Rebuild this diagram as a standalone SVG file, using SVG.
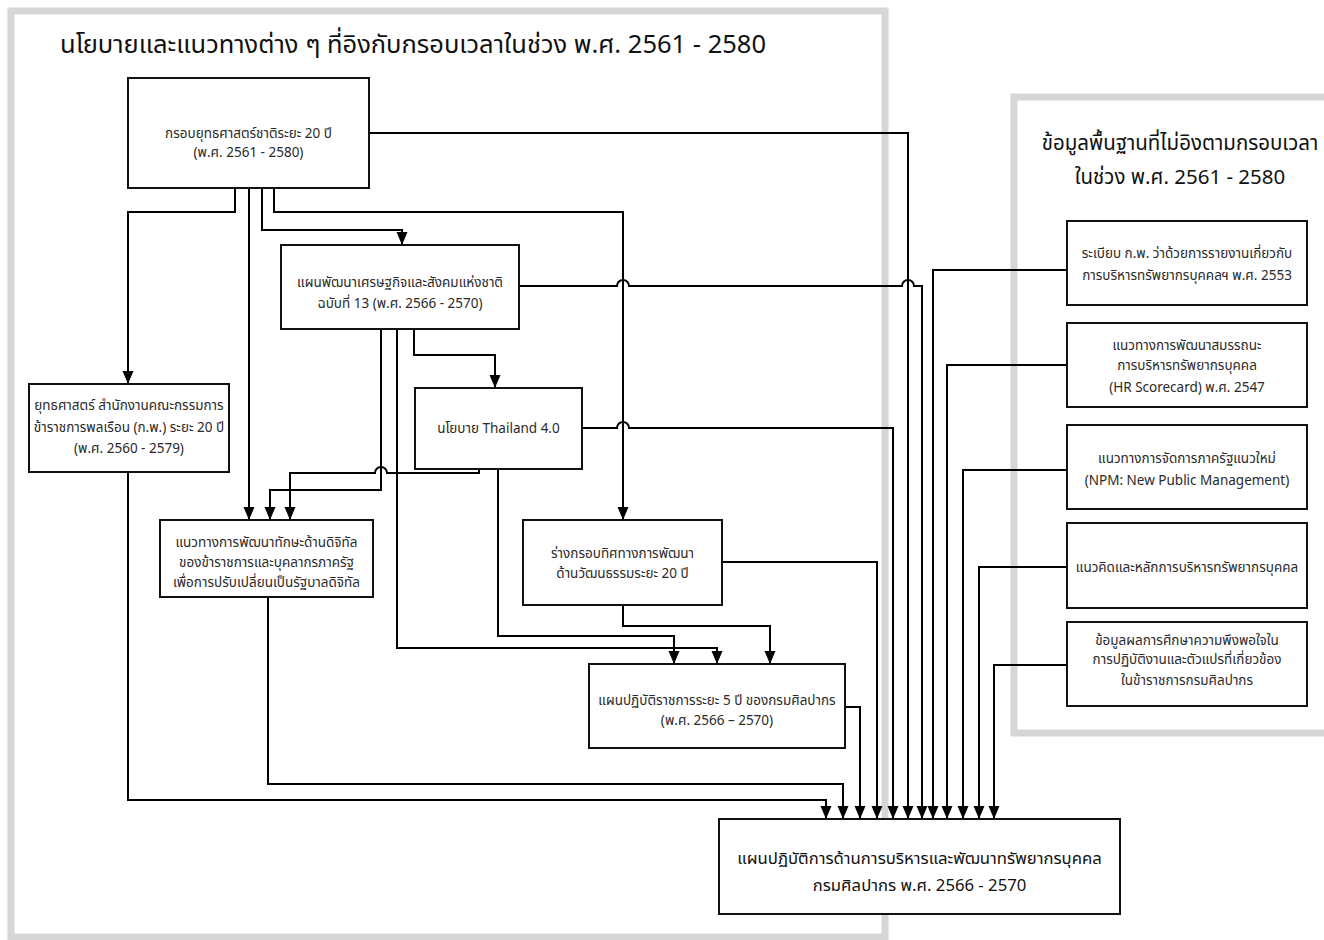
<svg xmlns="http://www.w3.org/2000/svg" width="1324" height="940" viewBox="0 0 1324 940">
<defs>
<marker id="arr" markerWidth="13" markerHeight="12" refX="13" refY="6" orient="auto" markerUnits="userSpaceOnUse" viewBox="0 0 13 12">
<path d="M0 0.5 L13 6 L0 11.5 Z" fill="#000"/>
</marker>
<style>
.panel{fill:#fff;stroke:#d6d6d6;stroke-width:7}
.box{fill:#fff;stroke:#111;stroke-width:2}
.t{font-family:"Noto Sans Thai","Noto Sans","DejaVu Sans",sans-serif;fill:#2a2a2a;text-anchor:middle}
.s{font-size:13.5px}
.big{font-size:25.5px;fill:#111;text-anchor:start}
.mid{font-size:20.5px;fill:#111}
.tg{font-size:16.7px;fill:#111}
.c{fill:none;stroke:#000;stroke-width:2}
.c path{marker-end:url(#arr)}
</style>
</defs>
<rect width="1324" height="940" fill="#fff"/>
<rect class="panel" x="11" y="11" width="874" height="926"/>
<rect class="panel" x="1014" y="97" width="320" height="636"/>
<text class="t big" x="60" y="53">นโยบายและแนวทางต่าง ๆ ที่อิงกับกรอบเวลาในช่วง พ.ศ. 2561 - 2580</text>
<text class="t mid" x="1180" y="150">ข้อมูลพื้นฐานที่ไม่อิงตามกรอบเวลา</text>
<text class="t mid" x="1180" y="184">ในช่วง พ.ศ. 2561 - 2580</text>

<g class="c" id="connectors">
<path d="M235 188 V212 H128 V384"/>
<path d="M249 188 V520"/>
<path d="M262 188 V230 H402 V245"/>
<path d="M274 188 V212 H623 V520"/>
<path d="M369 133 H908 V819"/>
<path d="M381 329 V490 H270 V520"/>
<path d="M397 329 V648 H717 V664"/>
<path d="M414 329 V355 H495 V388"/>
<path d="M519 286 H617 a6 6 0 0 1 12 0 H902 a6 6 0 0 1 12 0 H922 V819"/>
<path d="M479 469 V473 H387 a6 6 0 0 0 -12 0 H290 V520"/>
<path d="M498 469 V636 H674 V664"/>
<path d="M582 428 H617 a6 6 0 0 1 12 0 H893 V819"/>
<path d="M623 605 V626 H770 V664"/>
<path d="M722 562 H877 V819"/>
<path d="M845 707 H860 V819"/>
<path d="M128 472 V800 H826 V819"/>
<path d="M268 597 V784 H843 V819"/>
<path d="M1067 270 H933 V819"/>
<path d="M1067 365 H947 V819"/>
<path d="M1067 470 H963 V819"/>
<path d="M1067 567 H979 V819"/>
<path d="M1067 665 H994 V819"/>
</g>

<g id="nodeA">
<rect class="box" x="128" y="78" width="241" height="110"/>
<text class="t s" x="248.5" y="138">กรอบยุทธศาสตร์ชาติระยะ 20 ปี</text>
<text class="t s" x="248.5" y="157">(พ.ศ. 2561 - 2580)</text>
</g>
<g id="nodeB">
<rect class="box" x="281" y="245" width="238" height="84"/>
<text class="t s" x="400" y="287">แผนพัฒนาเศรษฐกิจและสังคมแห่งชาติ</text>
<text class="t s" x="400" y="308">ฉบับที่ 13 (พ.ศ. 2566 - 2570)</text>
</g>
<g id="nodeC">
<rect class="box" x="29" y="384" width="200" height="88"/>
<text class="t s" x="129" y="410">ยุทธศาสตร์ สำนักงานคณะกรรมการ</text>
<text class="t s" x="129" y="432">ข้าราชการพลเรือน (ก.พ.) ระยะ 20 ปี</text>
<text class="t s" x="129" y="453">(พ.ศ. 2560 - 2579)</text>
</g>
<g id="nodeD">
<rect class="box" x="160" y="520" width="213" height="77"/>
<text class="t s" x="266.5" y="547">แนวทางการพัฒนาทักษะด้านดิจิทัล</text>
<text class="t s" x="266.5" y="567">ของข้าราชการและบุคลากรภาครัฐ</text>
<text class="t s" x="266.5" y="587">เพื่อการปรับเปลี่ยนเป็นรัฐบาลดิจิทัล</text>
</g>
<g id="nodeE">
<rect class="box" x="415" y="388" width="167" height="81"/>
<text class="t s" x="498.5" y="433">นโยบาย Thailand 4.0</text>
</g>
<g id="nodeF">
<rect class="box" x="523" y="520" width="199" height="85"/>
<text class="t s" x="622.5" y="558">ร่างกรอบทิศทางการพัฒนา</text>
<text class="t s" x="622.5" y="578">ด้านวัฒนธรรมระยะ 20 ปี</text>
</g>
<g id="nodeG">
<rect class="box" x="589" y="664" width="256" height="84"/>
<text class="t s" x="717" y="705">แผนปฏิบัติราชการระยะ 5 ปี ของกรมศิลปากร</text>
<text class="t s" x="717" y="725">(พ.ศ. 2566 – 2570)</text>
</g>
<g id="nodeT">
<rect class="box" x="719" y="819" width="401" height="95"/>
<text class="t tg" x="919.5" y="864">แผนปฏิบัติการด้านการบริหารและพัฒนาทรัพยากรบุคคล</text>
<text class="t tg" x="919.5" y="891">กรมศิลปากร พ.ศ. 2566 - 2570</text>
</g>
<g id="nodeR1">
<rect class="box" x="1067" y="221" width="240" height="84"/>
<text class="t s" x="1187" y="258">ระเบียบ ก.พ. ว่าด้วยการรายงานเกี่ยวกับ</text>
<text class="t s" x="1187" y="280">การบริหารทรัพยากรบุคคลฯ พ.ศ. 2553</text>
</g>
<g id="nodeR2">
<rect class="box" x="1067" y="323" width="240" height="84"/>
<text class="t s" x="1187" y="350">แนวทางการพัฒนาสมรรถนะ</text>
<text class="t s" x="1187" y="370">การบริหารทรัพยากรบุคคล</text>
<text class="t s" x="1187" y="392">(HR Scorecard) พ.ศ. 2547</text>
</g>
<g id="nodeR3">
<rect class="box" x="1067" y="425" width="240" height="84"/>
<text class="t s" x="1187" y="463">แนวทางการจัดการภาครัฐแนวใหม่</text>
<text class="t s" x="1187" y="485">(NPM: New Public Management)</text>
</g>
<g id="nodeR4">
<rect class="box" x="1067" y="523" width="240" height="85"/>
<text class="t s" x="1187" y="572">แนวคิดและหลักการบริหารทรัพยากรบุคคล</text>
</g>
<g id="nodeR5">
<rect class="box" x="1067" y="622" width="240" height="84"/>
<text class="t s" x="1187" y="645">ข้อมูลผลการศึกษาความพึงพอใจใน</text>
<text class="t s" x="1187" y="664">การปฏิบัติงานและตัวแปรที่เกี่ยวข้อง</text>
<text class="t s" x="1187" y="685">ในข้าราชการกรมศิลปากร</text>
</g>
</svg>
